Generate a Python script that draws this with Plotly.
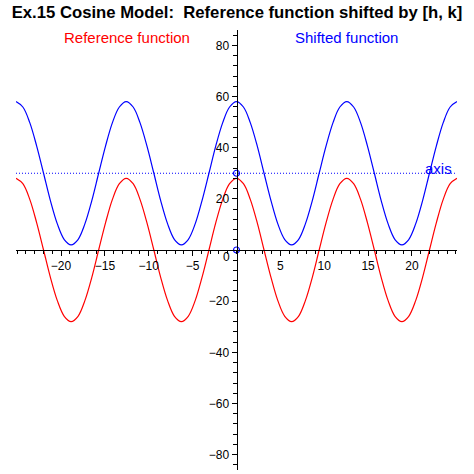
import plotly.graph_objects as go

x_vals = [-25.13, -24.35, -23.56, -22.78, -21.99, -21.21, -20.42, -19.63,
          -18.85, -18.06, -17.28, -16.49, -15.71, -14.92, -14.14, -13.35,
          -12.57, -11.78, -11.00, -10.21, -9.42, -8.64, -7.85, -7.07,
          -6.28, -5.50, -4.71, -3.93, -3.14, -2.36, -1.57, -0.79,
          0.00, 0.79, 1.57, 2.36, 3.14, 3.93, 4.71, 5.50,
          6.28, 7.07, 7.85, 8.64, 9.42, 10.21, 11.00, 11.78,
          12.57, 13.35, 14.14, 14.92, 15.71, 16.49, 17.28, 18.06,
          18.85, 19.63, 20.42, 21.21, 21.99, 22.78, 23.56, 24.35, 25.13]
reference_y = [28, 25.9, 19.8, 10.7, 0, -10.7, -19.8, -25.9,
               -28, -25.9, -19.8, -10.7, 0, 10.7, 19.8, 25.9,
               28, 25.9, 19.8, 10.7, 0, -10.7, -19.8, -25.9,
               -28, -25.9, -19.8, -10.7, 0, 10.7, 19.8, 25.9,
               28, 25.9, 19.8, 10.7, 0, -10.7, -19.8, -25.9,
               -28, -25.9, -19.8, -10.7, 0, 10.7, 19.8, 25.9,
               28, 25.9, 19.8, 10.7, 0, -10.7, -19.8, -25.9,
               -28, -25.9, -19.8, -10.7, 0, 10.7, 19.8, 25.9, 28]
shifted_y = [58, 55.9, 49.8, 40.7, 30, 19.3, 10.2, 4.1,
             2, 4.1, 10.2, 19.3, 30, 40.7, 49.8, 55.9,
             58, 55.9, 49.8, 40.7, 30, 19.3, 10.2, 4.1,
             2, 4.1, 10.2, 19.3, 30, 40.7, 49.8, 55.9,
             58, 55.9, 49.8, 40.7, 30, 19.3, 10.2, 4.1,
             2, 4.1, 10.2, 19.3, 30, 40.7, 49.8, 55.9,
             58, 55.9, 49.8, 40.7, 30, 19.3, 10.2, 4.1,
             2, 4.1, 10.2, 19.3, 30, 40.7, 49.8, 55.9, 58]

shift_h, shift_k = 0, 30
axis_x = [-25.13, 25.13]
x_ticks = [-20, -15, -10, -5, 5, 10, 15, 20]
y_ticks = [-80, -60, -40, -20, 20, 40, 60, 80]

FONT = "Liberation Sans, Arial, sans-serif"
RED = "#ff0000"
BLUE = "#0000ff"

fig = go.Figure()

# dotted horizontal "axis" line at y = k
fig.add_trace(go.Scatter(x=axis_x, y=[shift_k, shift_k], mode="lines",
                         line=dict(color=BLUE, width=1, dash="1px,2px"),
                         hoverinfo="skip"))
fig.add_trace(go.Scatter(x=x_vals, y=reference_y, mode="lines",
                         line=dict(color=RED, width=1.2, shape="spline"),
                         name="Reference function"))
fig.add_trace(go.Scatter(x=x_vals, y=shifted_y, mode="lines",
                         line=dict(color=BLUE, width=1.2, shape="spline"),
                         name="Shifted function"))
# marker points at (h, 0) and (h, k)
fig.add_trace(go.Scatter(x=[shift_h, shift_h], y=[0, shift_k], mode="markers",
                         marker=dict(symbol="circle-open", size=6, color=BLUE,
                                     line=dict(width=1.2, color=BLUE))))

fig.add_annotation(x=-12.5, y=83, text="Reference function", showarrow=False,
                   font=dict(family=FONT, size=15, color=RED))
fig.add_annotation(x=12.5, y=83, text="Shifted function", showarrow=False,
                   font=dict(family=FONT, size=15, color=BLUE))
fig.add_annotation(x=23.0, y=31.8, text="axis", showarrow=False,
                   font=dict(family=FONT, size=15, color=BLUE))
fig.add_annotation(x=-1.15, y=-2.7, text="0", showarrow=False,
                   font=dict(family=FONT, size=12, color="black"))

fig.update_layout(
    width=474, height=474,
    margin=dict(l=16, r=17, t=30, b=4),
    paper_bgcolor="white", plot_bgcolor="white",
    showlegend=False,
    title=dict(text="<b>Ex.15 Cosine Model:  Reference function shifted by [h, k]</b>",
               x=0.5, xanchor="center", y=1 - 12 / 474, yanchor="middle",
               yref="container", font=dict(family=FONT, size=16.7, color="black")),
    font=dict(family=FONT, size=12, color="black"),
)
fig.update_xaxes(range=axis_x, anchor="free", position=0.5,
                 showgrid=False, zeroline=False, showline=True,
                 linecolor="black", linewidth=1,
                 tickvals=x_ticks, ticks="outside", ticklen=5, tickwidth=1,
                 tickcolor="black", tickfont=dict(family=FONT, size=12),
                 minor=dict(dtick=1, tick0=0, ticks="outside", ticklen=3,
                            tickcolor="black", showgrid=False))
fig.update_yaxes(range=[-86, 86], anchor="free", position=0.5,
                 showgrid=False, zeroline=False, showline=True,
                 linecolor="black", linewidth=1,
                 tickvals=y_ticks, ticks="outside", ticklen=5, tickwidth=1,
                 tickcolor="black", tickfont=dict(family=FONT, size=12),
                 minor=dict(dtick=4, tick0=0, ticks="outside", ticklen=4,
                            tickcolor="black", showgrid=False))

# drop the default page margin so the figure sits at the window's corner
fig.write_html("out.html", config={"displayModeBar": False},
               post_script="document.body.style.margin = '0';")
